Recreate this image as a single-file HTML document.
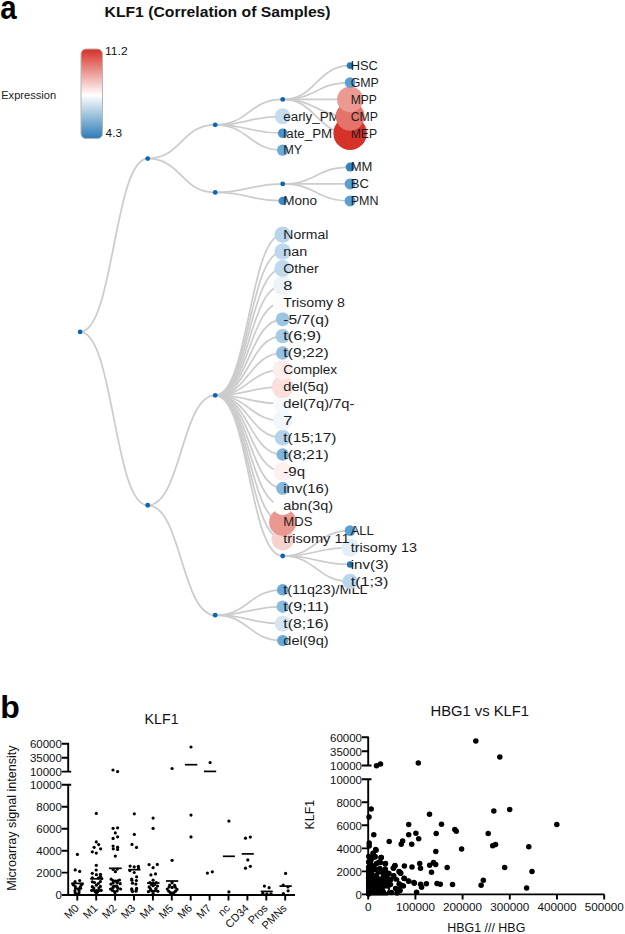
<!DOCTYPE html>
<html><head><meta charset="utf-8"><style>
html,body{margin:0;padding:0;background:#fff;}
body{width:625px;height:934px;overflow:hidden;position:relative;}
svg{position:absolute;left:0;top:0;}
text{font-family:"Liberation Sans",sans-serif;}
</style></head><body>
<svg width="625" height="934" viewBox="0 0 625 934">
<defs>
<linearGradient id="cb" x1="0" y1="0" x2="0" y2="1">
<stop offset="0" stop-color="#d73027"/>
<stop offset="0.515" stop-color="#ffffff"/>
<stop offset="1" stop-color="#2c7bb6"/>
</linearGradient>
</defs>
<text transform="translate(0.2,18.6) scale(0.88,1)" font-size="33.5" font-weight="bold" fill="#000">a</text>
<text x="104.6" y="16.9" font-size="15.3" font-weight="bold" fill="#111" textLength="226" lengthAdjust="spacingAndGlyphs">KLF1 (Correlation of Samples)</text>
<text x="1.2" y="98.8" font-size="11.2" fill="#222" textLength="55" lengthAdjust="spacingAndGlyphs">Expression</text>
<rect x="81" y="49" width="21.5" height="89.6" rx="5" fill="url(#cb)" stroke="#b5b5b5" stroke-width="1"/>
<text x="105" y="55.2" font-size="10.2" fill="#111" textLength="22.6" lengthAdjust="spacingAndGlyphs">11.2</text>
<text x="105.6" y="136.9" font-size="10.2" fill="#111" textLength="16.4" lengthAdjust="spacingAndGlyphs">4.3</text>
<g font-size="12" fill="#1c1c1c">
<g fill="none" stroke="#cccccc" stroke-width="1.75">
<path d="M80.1,331.93C113.90,331.93 113.90,158.60 147.7,158.60"/>
<path d="M80.1,331.93C113.90,331.93 113.90,505.26 147.7,505.26"/>
<path d="M147.7,158.60C181.45,158.60 181.45,124.78 215.2,124.78"/>
<path d="M147.7,158.60C181.45,158.60 181.45,192.43 215.2,192.43"/>
<path d="M147.7,505.26C181.45,505.26 181.45,395.35 215.2,395.35"/>
<path d="M147.7,505.26C181.45,505.26 181.45,615.18 215.2,615.18"/>
<path d="M215.2,124.78C248.95,124.78 248.95,99.42 282.7,99.42"/>
<path d="M215.2,124.78C248.95,124.78 248.95,116.33 282.7,116.33"/>
<path d="M215.2,124.78C248.95,124.78 248.95,133.24 282.7,133.24"/>
<path d="M215.2,124.78C248.95,124.78 248.95,150.15 282.7,150.15"/>
<path d="M215.2,192.43C248.95,192.43 248.95,183.97 282.7,183.97"/>
<path d="M215.2,192.43C248.95,192.43 248.95,200.88 282.7,200.88"/>
<path d="M282.7,99.42C316.40,99.42 316.40,65.60 350.1,65.60"/>
<path d="M282.7,99.42C316.40,99.42 316.40,82.51 350.1,82.51"/>
<path d="M282.7,99.42C316.40,99.42 316.40,99.42 350.1,99.42"/>
<path d="M282.7,99.42C316.40,99.42 316.40,116.33 350.1,116.33"/>
<path d="M282.7,99.42C316.40,99.42 316.40,133.24 350.1,133.24"/>
<path d="M282.7,183.97C316.40,183.97 316.40,167.06 350.1,167.06"/>
<path d="M282.7,183.97C316.40,183.97 316.40,183.97 350.1,183.97"/>
<path d="M282.7,183.97C316.40,183.97 316.40,200.88 350.1,200.88"/>
<path d="M215.2,395.35C248.95,395.35 248.95,234.70 282.7,234.70"/>
<path d="M215.2,395.35C248.95,395.35 248.95,251.61 282.7,251.61"/>
<path d="M215.2,395.35C248.95,395.35 248.95,268.52 282.7,268.52"/>
<path d="M215.2,395.35C248.95,395.35 248.95,285.43 282.7,285.43"/>
<path d="M215.2,395.35C248.95,395.35 248.95,302.34 282.7,302.34"/>
<path d="M215.2,395.35C248.95,395.35 248.95,319.25 282.7,319.25"/>
<path d="M215.2,395.35C248.95,395.35 248.95,336.16 282.7,336.16"/>
<path d="M215.2,395.35C248.95,395.35 248.95,353.07 282.7,353.07"/>
<path d="M215.2,395.35C248.95,395.35 248.95,369.98 282.7,369.98"/>
<path d="M215.2,395.35C248.95,395.35 248.95,386.89 282.7,386.89"/>
<path d="M215.2,395.35C248.95,395.35 248.95,403.80 282.7,403.80"/>
<path d="M215.2,395.35C248.95,395.35 248.95,420.71 282.7,420.71"/>
<path d="M215.2,395.35C248.95,395.35 248.95,437.62 282.7,437.62"/>
<path d="M215.2,395.35C248.95,395.35 248.95,454.53 282.7,454.53"/>
<path d="M215.2,395.35C248.95,395.35 248.95,471.44 282.7,471.44"/>
<path d="M215.2,395.35C248.95,395.35 248.95,488.35 282.7,488.35"/>
<path d="M215.2,395.35C248.95,395.35 248.95,505.26 282.7,505.26"/>
<path d="M215.2,395.35C248.95,395.35 248.95,522.17 282.7,522.17"/>
<path d="M215.2,395.35C248.95,395.35 248.95,539.08 282.7,539.08"/>
<path d="M215.2,395.35C248.95,395.35 248.95,555.99 282.7,555.99"/>
<path d="M282.7,555.99C316.40,555.99 316.40,530.62 350.1,530.62"/>
<path d="M282.7,555.99C316.40,555.99 316.40,547.53 350.1,547.53"/>
<path d="M282.7,555.99C316.40,555.99 316.40,564.45 350.1,564.45"/>
<path d="M282.7,555.99C316.40,555.99 316.40,581.36 350.1,581.36"/>
<path d="M215.2,615.18C248.95,615.18 248.95,589.81 282.7,589.81"/>
<path d="M215.2,615.18C248.95,615.18 248.95,606.72 282.7,606.72"/>
<path d="M215.2,615.18C248.95,615.18 248.95,623.63 282.7,623.63"/>
<path d="M215.2,615.18C248.95,615.18 248.95,640.54 282.7,640.54"/>
</g>
<circle cx="282.7" cy="640.54" r="5.6" fill="#6aa7d6"/>
<text x="283.3" y="644.84" textLength="45.4" lengthAdjust="spacingAndGlyphs">del(9q)</text>
<circle cx="282.7" cy="623.63" r="8.0" fill="#d4e6f3"/>
<text x="283.3" y="627.93" textLength="45.5" lengthAdjust="spacingAndGlyphs">t(8;16)</text>
<circle cx="282.7" cy="606.72" r="6.2" fill="#88bbe0"/>
<text x="283.3" y="611.02" textLength="45.5" lengthAdjust="spacingAndGlyphs">t(9;11)</text>
<circle cx="282.7" cy="589.81" r="5.8" fill="#6ba8d7"/>
<text x="283.3" y="594.11" textLength="84.1" lengthAdjust="spacingAndGlyphs">t(11q23)/MLL</text>
<circle cx="215.2" cy="615.18" r="2.4" fill="#0b66b0"/>
<circle cx="350.1" cy="581.36" r="7.7" fill="#b9d6ec"/>
<text x="350.7" y="585.65" textLength="37.8" lengthAdjust="spacingAndGlyphs">t(1;3)</text>
<circle cx="350.1" cy="564.45" r="3.2" fill="#2474b7"/>
<text x="350.7" y="568.75" textLength="38.0" lengthAdjust="spacingAndGlyphs">inv(3)</text>
<circle cx="350.1" cy="547.53" r="9.0" fill="#e3eef8"/>
<text x="350.7" y="551.83" textLength="66.4" lengthAdjust="spacingAndGlyphs">trisomy 13</text>
<circle cx="350.1" cy="530.62" r="5.4" fill="#5aa0d6"/>
<text x="350.7" y="534.92" textLength="23.1" lengthAdjust="spacingAndGlyphs">ALL</text>
<circle cx="282.7" cy="555.99" r="2.4" fill="#0b66b0"/>
<circle cx="282.7" cy="539.08" r="11.2" fill="#f6d2cf"/>
<text x="283.3" y="543.38" textLength="66.4" lengthAdjust="spacingAndGlyphs">trisomy 11</text>
<circle cx="282.7" cy="522.17" r="13.6" fill="#ea978f"/>
<text x="283.3" y="526.47" textLength="29.1" lengthAdjust="spacingAndGlyphs">MDS</text>
<circle cx="282.7" cy="505.26" r="10.0" fill="#ffffff"/>
<text x="283.3" y="509.56" textLength="49.8" lengthAdjust="spacingAndGlyphs">abn(3q)</text>
<circle cx="282.7" cy="488.35" r="6.5" fill="#84b8de"/>
<text x="283.3" y="492.65" textLength="45.6" lengthAdjust="spacingAndGlyphs">inv(16)</text>
<circle cx="282.7" cy="471.44" r="9.4" fill="#fdf0ef"/>
<text x="283.3" y="475.74" textLength="21.8" lengthAdjust="spacingAndGlyphs">-9q</text>
<circle cx="282.7" cy="454.53" r="6.2" fill="#7fb4dc"/>
<text x="283.3" y="458.83" textLength="45.5" lengthAdjust="spacingAndGlyphs">t(8;21)</text>
<circle cx="282.7" cy="437.62" r="7.9" fill="#b5d3ea"/>
<text x="283.3" y="441.92" textLength="53.1" lengthAdjust="spacingAndGlyphs">t(15;17)</text>
<circle cx="282.7" cy="420.71" r="9.6" fill="#f0f6fb"/>
<text x="283.3" y="425.01" textLength="9.1" lengthAdjust="spacingAndGlyphs">7</text>
<circle cx="282.7" cy="403.80" r="9.5" fill="#f4f9fd"/>
<text x="283.3" y="408.10" textLength="71.1" lengthAdjust="spacingAndGlyphs">del(7q)/7q-</text>
<circle cx="282.7" cy="386.89" r="11.0" fill="#fadfdd"/>
<text x="283.3" y="391.19" textLength="45.4" lengthAdjust="spacingAndGlyphs">del(5q)</text>
<circle cx="282.7" cy="369.98" r="10.2" fill="#fdeeed"/>
<text x="283.3" y="374.28" textLength="53.9" lengthAdjust="spacingAndGlyphs">Complex</text>
<circle cx="282.7" cy="353.07" r="6.7" fill="#93bfe1"/>
<text x="283.3" y="357.37" textLength="45.5" lengthAdjust="spacingAndGlyphs">t(9;22)</text>
<circle cx="282.7" cy="336.16" r="7.2" fill="#a6cbe6"/>
<text x="283.3" y="340.46" textLength="37.8" lengthAdjust="spacingAndGlyphs">t(6;9)</text>
<circle cx="282.7" cy="319.25" r="6.9" fill="#9cc4e3"/>
<text x="283.3" y="323.55" textLength="45.8" lengthAdjust="spacingAndGlyphs">-5/7(q)</text>
<circle cx="282.7" cy="302.34" r="10.0" fill="#fefbfb"/>
<text x="283.3" y="306.64" textLength="61.5" lengthAdjust="spacingAndGlyphs">Trisomy 8</text>
<circle cx="282.7" cy="285.43" r="9.6" fill="#ecf4fa"/>
<text x="283.3" y="289.73" textLength="9.1" lengthAdjust="spacingAndGlyphs">8</text>
<circle cx="282.7" cy="268.52" r="8.4" fill="#c0d9ed"/>
<text x="283.3" y="272.82" textLength="35.5" lengthAdjust="spacingAndGlyphs">Other</text>
<circle cx="282.7" cy="251.61" r="8.2" fill="#bdd7ec"/>
<text x="283.3" y="255.91" textLength="23.9" lengthAdjust="spacingAndGlyphs">nan</text>
<circle cx="282.7" cy="234.70" r="8.2" fill="#b9d5eb"/>
<text x="283.3" y="239.00" textLength="45.1" lengthAdjust="spacingAndGlyphs">Normal</text>
<circle cx="215.2" cy="395.35" r="2.4" fill="#0b66b0"/>
<circle cx="147.7" cy="505.26" r="2.4" fill="#0b66b0"/>
<circle cx="282.7" cy="200.88" r="4.2" fill="#3c88c6"/>
<text x="283.3" y="205.18" textLength="33.8" lengthAdjust="spacingAndGlyphs">Mono</text>
<circle cx="350.1" cy="200.88" r="5.5" fill="#5aa0d6"/>
<text x="350.7" y="205.18" textLength="27.8" lengthAdjust="spacingAndGlyphs">PMN</text>
<circle cx="350.1" cy="183.97" r="5.5" fill="#5aa0d6"/>
<text x="350.7" y="188.27" textLength="18.1" lengthAdjust="spacingAndGlyphs">BC</text>
<circle cx="350.1" cy="167.06" r="4.5" fill="#3283c3"/>
<text x="350.7" y="171.36" textLength="21.7" lengthAdjust="spacingAndGlyphs">MM</text>
<circle cx="282.7" cy="183.97" r="2.4" fill="#0b66b0"/>
<circle cx="215.2" cy="192.43" r="2.4" fill="#0b66b0"/>
<circle cx="282.7" cy="150.15" r="5.7" fill="#6caad8"/>
<text x="283.3" y="154.45" textLength="19.0" lengthAdjust="spacingAndGlyphs">MY</text>
<circle cx="282.7" cy="133.24" r="4.8" fill="#4a92cc"/>
<text x="283.3" y="137.54" textLength="48.9" lengthAdjust="spacingAndGlyphs">late_PM</text>
<circle cx="282.7" cy="116.33" r="8.0" fill="#c3dcef"/>
<text x="283.3" y="120.63" textLength="56.4" lengthAdjust="spacingAndGlyphs">early_PM</text>
<circle cx="350.1" cy="133.24" r="16.7" fill="#d5322a"/>
<text x="350.7" y="137.54" textLength="26.4" lengthAdjust="spacingAndGlyphs">MEP</text>
<circle cx="350.1" cy="116.33" r="14.4" fill="#e4736a"/>
<text x="350.7" y="120.63" textLength="27.2" lengthAdjust="spacingAndGlyphs">CMP</text>
<circle cx="350.1" cy="99.42" r="13.0" fill="#ea9a91"/>
<text x="350.7" y="103.72" textLength="26.1" lengthAdjust="spacingAndGlyphs">MPP</text>
<circle cx="350.1" cy="82.51" r="5.3" fill="#5b9fd4"/>
<text x="350.7" y="86.81" textLength="28.2" lengthAdjust="spacingAndGlyphs">GMP</text>
<circle cx="350.1" cy="65.60" r="3.4" fill="#2a7abb"/>
<text x="350.7" y="69.90" textLength="27.1" lengthAdjust="spacingAndGlyphs">HSC</text>
<circle cx="282.7" cy="99.42" r="2.4" fill="#0b66b0"/>
<circle cx="215.2" cy="124.78" r="2.4" fill="#0b66b0"/>
<circle cx="147.7" cy="158.60" r="2.4" fill="#0b66b0"/>
<circle cx="80.1" cy="331.93" r="2.4" fill="#0b66b0"/>
</g>
<text x="0.3" y="718.2" font-size="32" font-weight="bold" fill="#000">b</text>
<text x="144.6" y="723.6" font-size="14.8" fill="#111" textLength="34" lengthAdjust="spacingAndGlyphs">KLF1</text>
<text x="430.5" y="715.8" font-size="14.6" fill="#111" textLength="98.6" lengthAdjust="spacingAndGlyphs">HBG1 vs KLF1</text>
<text transform="translate(15.7,890.8) rotate(-90)" font-size="12.4" fill="#111" textLength="145.4" lengthAdjust="spacingAndGlyphs">Microarray signal intensity</text>
<text transform="translate(314.3,829.4) rotate(-90)" font-size="12.8" fill="#111" textLength="29.6" lengthAdjust="spacingAndGlyphs">KLF1</text>
<text x="447.3" y="932" font-size="12" fill="#111" textLength="78" lengthAdjust="spacingAndGlyphs">HBG1 /// HBG</text>
<g stroke="#000" stroke-width="1.9" fill="none">
<path d="M68.2,742.8V771.6M61.8,743.7H68.2M61.8,757.7H68.2M61.8,771.6H71.2"/>
<path d="M71.2,784.8H68.2V895M61.8,784.8H68.2M61.8,806.8H68.2M61.8,828.7H68.2M61.8,850.7H68.2M61.8,872.6H68.2"/>
<path d="M61.8,895H295"/>
<path d="M77.30,895V900.6M96.20,895V900.6M115.10,895V900.6M134.00,895V900.6M152.90,895V900.6M171.80,895V900.6M190.70,895V900.6M209.60,895V900.6M228.50,895V900.6M247.40,895V900.6M266.30,895V900.6M285.20,895V900.6"/>
</g>
<g font-size="11.5" text-anchor="end" fill="#111">
<text x="61.9" y="748.0">60000</text>
<text x="61.9" y="762.0">35000</text>
<text x="61.9" y="775.9">10000</text>
<text x="61.9" y="789.1">10000</text>
<text x="61.9" y="811.1">8000</text>
<text x="61.9" y="833.0">6000</text>
<text x="61.9" y="855.0">4000</text>
<text x="61.9" y="876.9">2000</text>
<text x="61.9" y="898.9">0</text>
</g>
<g font-size="11" text-anchor="end" fill="#111">
<text transform="translate(79.5,908.8) rotate(-45)">M0</text>
<text transform="translate(98.4,908.8) rotate(-45)">M1</text>
<text transform="translate(117.3,908.8) rotate(-45)">M2</text>
<text transform="translate(136.2,908.8) rotate(-45)">M3</text>
<text transform="translate(155.1,908.8) rotate(-45)">M4</text>
<text transform="translate(174.0,908.8) rotate(-45)">M5</text>
<text transform="translate(192.9,908.8) rotate(-45)">M6</text>
<text transform="translate(211.8,908.8) rotate(-45)">M7</text>
<text transform="translate(230.7,908.8) rotate(-45)">nc</text>
<text transform="translate(249.6,908.8) rotate(-45)">CD34</text>
<text transform="translate(268.5,908.8) rotate(-45)">Pros</text>
<text transform="translate(287.4,908.8) rotate(-45)">PMNs</text>
</g>
<g stroke="#000" stroke-width="1.7">
<path d="M71.2,883.4H83.7"/>
<path d="M90.2,878.8H102.8"/>
<path d="M109.0,868.3H121.7"/>
<path d="M128.2,869.7H140.5"/>
<path d="M147.0,883.0H159.6"/>
<path d="M166.0,881.0H178.2"/>
<path d="M184.9,764.7H197.3"/>
<path d="M203.9,771.4H216.2"/>
<path d="M222.9,856.3H234.9"/>
<path d="M241.7,853.9H253.8"/>
<path d="M260.7,891.4H272.8"/>
<path d="M279.5,886.1H291.8"/>
</g>
<g fill="#000">
<circle cx="77.4" cy="854.4" r="1.6"/>
<circle cx="75.2" cy="869.9" r="1.6"/>
<circle cx="79.7" cy="871.4" r="1.6"/>
<circle cx="79.7" cy="880.6" r="1.6"/>
<circle cx="75.05" cy="881.7" r="1.6"/>
<circle cx="73.6" cy="885.0" r="1.6"/>
<circle cx="75.3" cy="886.5" r="1.6"/>
<circle cx="81.2" cy="885.0" r="1.6"/>
<circle cx="80.3" cy="886.8" r="1.6"/>
<circle cx="75.5" cy="888.4" r="1.6"/>
<circle cx="78.2" cy="888.8" r="1.6"/>
<circle cx="80.6" cy="888.2" r="1.6"/>
<circle cx="74.9" cy="890.8" r="1.6"/>
<circle cx="75.2" cy="892.8" r="1.6"/>
<circle cx="79.1" cy="890.5" r="1.6"/>
<circle cx="79.0" cy="892.8" r="1.6"/>
<circle cx="77.1" cy="894.3" r="1.6"/>
<circle cx="72.9" cy="884.0" r="1.6"/>
<circle cx="82.0" cy="884.2" r="1.6"/>
<circle cx="96.3" cy="813.4" r="1.6"/>
<circle cx="96.3" cy="841.9" r="1.6"/>
<circle cx="98.7" cy="844.6" r="1.6"/>
<circle cx="94.1" cy="847.3" r="1.6"/>
<circle cx="100.6" cy="848.8" r="1.6"/>
<circle cx="92.3" cy="851.8" r="1.6"/>
<circle cx="96.3" cy="853.1" r="1.6"/>
<circle cx="96.3" cy="865.3" r="1.6"/>
<circle cx="96.2" cy="870.0" r="1.6"/>
<circle cx="92.3" cy="873.3" r="1.6"/>
<circle cx="96.4" cy="874.7" r="1.6"/>
<circle cx="100.5" cy="874.3" r="1.6"/>
<circle cx="100.5" cy="876.3" r="1.6"/>
<circle cx="92.3" cy="877.8" r="1.6"/>
<circle cx="98.4" cy="878.0" r="1.6"/>
<circle cx="101.8" cy="878.6" r="1.6"/>
<circle cx="92.3" cy="881.8" r="1.6"/>
<circle cx="94.5" cy="882.5" r="1.6"/>
<circle cx="100.4" cy="881.6" r="1.6"/>
<circle cx="98.4" cy="883.5" r="1.6"/>
<circle cx="96.4" cy="885.2" r="1.6"/>
<circle cx="92.3" cy="886.7" r="1.6"/>
<circle cx="93.8" cy="888.1" r="1.6"/>
<circle cx="100.4" cy="886.4" r="1.6"/>
<circle cx="98.9" cy="888.1" r="1.6"/>
<circle cx="91.7" cy="890.4" r="1.6"/>
<circle cx="94.3" cy="890.4" r="1.6"/>
<circle cx="96.6" cy="890.7" r="1.6"/>
<circle cx="98.9" cy="890.4" r="1.6"/>
<circle cx="101.2" cy="890.4" r="1.6"/>
<circle cx="96.4" cy="892.5" r="1.6"/>
<circle cx="96.4" cy="894.3" r="1.6"/>
<circle cx="95.2" cy="891.8" r="1.6"/>
<circle cx="97.6" cy="891.8" r="1.6"/>
<circle cx="113.0" cy="770.0" r="1.6"/>
<circle cx="117.6" cy="771.6" r="1.6"/>
<circle cx="113.1" cy="828.3" r="1.6"/>
<circle cx="117.6" cy="827.8" r="1.6"/>
<circle cx="115.3" cy="832.9" r="1.6"/>
<circle cx="113.1" cy="838.4" r="1.6"/>
<circle cx="117.6" cy="836.8" r="1.6"/>
<circle cx="113.1" cy="846.1" r="1.6"/>
<circle cx="117.6" cy="847.2" r="1.6"/>
<circle cx="113.3" cy="848.8" r="1.6"/>
<circle cx="117.6" cy="849.4" r="1.6"/>
<circle cx="115.3" cy="856.1" r="1.6"/>
<circle cx="113.1" cy="869.5" r="1.6"/>
<circle cx="117.2" cy="869.1" r="1.6"/>
<circle cx="115.4" cy="871.7" r="1.6"/>
<circle cx="111.2" cy="879.2" r="1.6"/>
<circle cx="113.1" cy="880.7" r="1.6"/>
<circle cx="115.4" cy="881.1" r="1.6"/>
<circle cx="117.6" cy="880.9" r="1.6"/>
<circle cx="119.5" cy="880.0" r="1.6"/>
<circle cx="110.9" cy="884.1" r="1.6"/>
<circle cx="113.1" cy="883.0" r="1.6"/>
<circle cx="117.2" cy="883.0" r="1.6"/>
<circle cx="120.2" cy="883.7" r="1.6"/>
<circle cx="113.5" cy="886.3" r="1.6"/>
<circle cx="115.4" cy="886.2" r="1.6"/>
<circle cx="116.9" cy="886.3" r="1.6"/>
<circle cx="110.5" cy="889.0" r="1.6"/>
<circle cx="112.7" cy="888.2" r="1.6"/>
<circle cx="118.0" cy="888.2" r="1.6"/>
<circle cx="120.6" cy="889.0" r="1.6"/>
<circle cx="112.4" cy="890.5" r="1.6"/>
<circle cx="114.6" cy="891.6" r="1.6"/>
<circle cx="117.2" cy="890.8" r="1.6"/>
<circle cx="115.0" cy="892.7" r="1.6"/>
<circle cx="134.3" cy="813.8" r="1.6"/>
<circle cx="134.3" cy="834.4" r="1.6"/>
<circle cx="132.0" cy="844.4" r="1.6"/>
<circle cx="136.5" cy="847.4" r="1.6"/>
<circle cx="130.1" cy="866.1" r="1.6"/>
<circle cx="134.2" cy="866.9" r="1.6"/>
<circle cx="138.3" cy="866.3" r="1.6"/>
<circle cx="138.5" cy="868.0" r="1.6"/>
<circle cx="129.9" cy="870.6" r="1.6"/>
<circle cx="134.2" cy="872.5" r="1.6"/>
<circle cx="136.6" cy="876.8" r="1.6"/>
<circle cx="131.7" cy="879.0" r="1.6"/>
<circle cx="131.9" cy="880.2" r="1.6"/>
<circle cx="136.4" cy="880.5" r="1.6"/>
<circle cx="132.5" cy="883.2" r="1.6"/>
<circle cx="135.9" cy="884.1" r="1.6"/>
<circle cx="131.7" cy="888.8" r="1.6"/>
<circle cx="136.6" cy="888.4" r="1.6"/>
<circle cx="132.5" cy="891.6" r="1.6"/>
<circle cx="136.0" cy="891.2" r="1.6"/>
<circle cx="132.0" cy="890.2" r="1.6"/>
<circle cx="136.3" cy="889.8" r="1.6"/>
<circle cx="153.1" cy="818.1" r="1.6"/>
<circle cx="153.1" cy="828.4" r="1.6"/>
<circle cx="149.1" cy="864.6" r="1.6"/>
<circle cx="157.3" cy="864.4" r="1.6"/>
<circle cx="153.1" cy="867.7" r="1.6"/>
<circle cx="150.9" cy="874.9" r="1.6"/>
<circle cx="155.5" cy="873.9" r="1.6"/>
<circle cx="153.1" cy="880.2" r="1.6"/>
<circle cx="149.9" cy="882.6" r="1.6"/>
<circle cx="156.3" cy="882.6" r="1.6"/>
<circle cx="153.1" cy="883.6" r="1.6"/>
<circle cx="151.5" cy="884.5" r="1.6"/>
<circle cx="154.7" cy="884.5" r="1.6"/>
<circle cx="149.1" cy="886.9" r="1.6"/>
<circle cx="157.5" cy="886.1" r="1.6"/>
<circle cx="153.1" cy="885.7" r="1.6"/>
<circle cx="150.3" cy="888.5" r="1.6"/>
<circle cx="155.9" cy="888.5" r="1.6"/>
<circle cx="148.4" cy="891.7" r="1.6"/>
<circle cx="157.9" cy="891.3" r="1.6"/>
<circle cx="151.9" cy="891.0" r="1.6"/>
<circle cx="154.3" cy="891.0" r="1.6"/>
<circle cx="153.1" cy="893.7" r="1.6"/>
<circle cx="150.5" cy="890.0" r="1.6"/>
<circle cx="156.0" cy="890.0" r="1.6"/>
<circle cx="172.1" cy="768.5" r="1.6"/>
<circle cx="172.1" cy="860.3" r="1.6"/>
<circle cx="172.1" cy="882.7" r="1.6"/>
<circle cx="169.7" cy="885.1" r="1.6"/>
<circle cx="174.6" cy="885.4" r="1.6"/>
<circle cx="172.1" cy="887.4" r="1.6"/>
<circle cx="169.1" cy="887.0" r="1.6"/>
<circle cx="175.2" cy="887.2" r="1.6"/>
<circle cx="167.3" cy="889.1" r="1.6"/>
<circle cx="177.0" cy="889.4" r="1.6"/>
<circle cx="168.8" cy="891.2" r="1.6"/>
<circle cx="175.5" cy="891.2" r="1.6"/>
<circle cx="170.3" cy="892.6" r="1.6"/>
<circle cx="172.1" cy="893.2" r="1.6"/>
<circle cx="174.0" cy="892.6" r="1.6"/>
<circle cx="172.1" cy="894.2" r="1.6"/>
<circle cx="191.0" cy="747.0" r="1.6"/>
<circle cx="191.0" cy="815.1" r="1.6"/>
<circle cx="191.0" cy="836.9" r="1.6"/>
<circle cx="210.1" cy="762.6" r="1.6"/>
<circle cx="207.4" cy="873.1" r="1.6"/>
<circle cx="212.3" cy="871.8" r="1.6"/>
<circle cx="228.9" cy="821.1" r="1.6"/>
<circle cx="228.9" cy="891.9" r="1.6"/>
<circle cx="245.5" cy="838.2" r="1.6"/>
<circle cx="250.3" cy="837.1" r="1.6"/>
<circle cx="247.8" cy="859.9" r="1.6"/>
<circle cx="245.5" cy="868.2" r="1.6"/>
<circle cx="250.3" cy="866.3" r="1.6"/>
<circle cx="264.4" cy="886.1" r="1.6"/>
<circle cx="269.1" cy="887.7" r="1.6"/>
<circle cx="262.8" cy="893.4" r="1.6"/>
<circle cx="266.8" cy="893.8" r="1.6"/>
<circle cx="271.0" cy="893.8" r="1.6"/>
<circle cx="285.6" cy="873.4" r="1.6"/>
<circle cx="283.2" cy="885.1" r="1.6"/>
<circle cx="287.9" cy="887.0" r="1.6"/>
<circle cx="288.1" cy="890.8" r="1.6"/>
<circle cx="283.4" cy="893.5" r="1.6"/>
</g>
<g stroke="#000" stroke-width="1.9" fill="none">
<path d="M368.2,736.4V765.5M361.9,737.3H368.2M361.9,751.3H368.2M361.9,765.5H371.5"/>
<path d="M371.5,779.3H368.2V894.4M361.9,779.3H368.2M361.9,802.3H368.2M361.9,825.3H368.2M361.9,848.4H368.2M361.9,871.4H368.2"/>
<path d="M361.9,894.4H604.4"/>
<path d="M368.20,894.4V899.4M415.40,894.4V899.4M462.60,894.4V899.4M509.80,894.4V899.4M557.00,894.4V899.4M604.20,894.4V899.4"/>
</g>
<g font-size="11.5" text-anchor="end" fill="#111">
<text x="362" y="741.6">60000</text>
<text x="362" y="755.6">35000</text>
<text x="362" y="769.8">10000</text>
<text x="362" y="783.6">10000</text>
<text x="362" y="806.6">8000</text>
<text x="362" y="829.6">6000</text>
<text x="362" y="852.7">4000</text>
<text x="362" y="875.7">2000</text>
<text x="362" y="898.7">0</text>
</g>
<g font-size="11.7" text-anchor="middle" fill="#111">
<text x="368.2" y="911.4">0</text>
<text x="415.4" y="911.4">100000</text>
<text x="462.6" y="911.4">200000</text>
<text x="509.8" y="911.4">300000</text>
<text x="557.0" y="911.4">400000</text>
<text x="604.2" y="911.4">500000</text>
</g>
<g fill="#000">
<circle cx="376.5" cy="765.7" r="2.75"/>
<circle cx="380.5" cy="764.1" r="2.75"/>
<circle cx="418.3" cy="763.0" r="2.75"/>
<circle cx="475.8" cy="740.9" r="2.75"/>
<circle cx="499.8" cy="757.0" r="2.75"/>
<circle cx="371.2" cy="809.1" r="2.75"/>
<circle cx="369.0" cy="817.0" r="2.75"/>
<circle cx="373.8" cy="834.8" r="2.75"/>
<circle cx="369.2" cy="843.0" r="2.75"/>
<circle cx="369.2" cy="845.9" r="2.75"/>
<circle cx="389.2" cy="841.6" r="2.75"/>
<circle cx="408.7" cy="824.4" r="2.75"/>
<circle cx="408.7" cy="834.7" r="2.75"/>
<circle cx="415.9" cy="833.2" r="2.75"/>
<circle cx="418.7" cy="838.7" r="2.75"/>
<circle cx="402.6" cy="841.0" r="2.75"/>
<circle cx="401.2" cy="844.2" r="2.75"/>
<circle cx="411.7" cy="844.2" r="2.75"/>
<circle cx="429.5" cy="814.2" r="2.75"/>
<circle cx="441.5" cy="824.2" r="2.75"/>
<circle cx="436.2" cy="833.4" r="2.75"/>
<circle cx="454.8" cy="829.5" r="2.75"/>
<circle cx="456.3" cy="831.2" r="2.75"/>
<circle cx="461.6" cy="848.9" r="2.75"/>
<circle cx="435.8" cy="851.6" r="2.75"/>
<circle cx="493.8" cy="810.9" r="2.75"/>
<circle cx="509.7" cy="809.6" r="2.75"/>
<circle cx="556.8" cy="824.6" r="2.75"/>
<circle cx="488.2" cy="833.6" r="2.75"/>
<circle cx="492.7" cy="845.7" r="2.75"/>
<circle cx="495.5" cy="844.5" r="2.75"/>
<circle cx="528.8" cy="846.8" r="2.75"/>
<circle cx="504.7" cy="867.6" r="2.75"/>
<circle cx="532.0" cy="871.4" r="2.75"/>
<circle cx="483.3" cy="880.3" r="2.75"/>
<circle cx="481.1" cy="885.2" r="2.75"/>
<circle cx="526.6" cy="887.9" r="2.75"/>
<circle cx="375.7" cy="849.6" r="2.75"/>
<circle cx="381.3" cy="857.4" r="2.75"/>
<circle cx="385.2" cy="863.7" r="2.75"/>
<circle cx="394.8" cy="866.0" r="2.75"/>
<circle cx="393.4" cy="868.3" r="2.75"/>
<circle cx="404.4" cy="866.0" r="2.75"/>
<circle cx="412.0" cy="867.0" r="2.75"/>
<circle cx="419.7" cy="863.4" r="2.75"/>
<circle cx="420.5" cy="868.3" r="2.75"/>
<circle cx="429.7" cy="865.3" r="2.75"/>
<circle cx="433.5" cy="862.6" r="2.75"/>
<circle cx="435.7" cy="864.6" r="2.75"/>
<circle cx="431.5" cy="872.3" r="2.75"/>
<circle cx="447.2" cy="867.6" r="2.75"/>
<circle cx="399.6" cy="872.0" r="2.75"/>
<circle cx="400.6" cy="873.2" r="2.75"/>
<circle cx="393.8" cy="875.7" r="2.75"/>
<circle cx="404.4" cy="878.4" r="2.75"/>
<circle cx="408.8" cy="881.3" r="2.75"/>
<circle cx="414.3" cy="883.2" r="2.75"/>
<circle cx="420.6" cy="884.2" r="2.75"/>
<circle cx="421.6" cy="887.2" r="2.75"/>
<circle cx="426.4" cy="883.8" r="2.75"/>
<circle cx="437.0" cy="883.5" r="2.75"/>
<circle cx="440.3" cy="884.2" r="2.75"/>
<circle cx="452.5" cy="884.6" r="2.75"/>
<circle cx="416.6" cy="892.3" r="2.75"/>
<circle cx="401.5" cy="885.2" r="2.75"/>
<circle cx="398.6" cy="889.0" r="2.75"/>
<circle cx="373.2" cy="853.2" r="2.75"/>
<circle cx="375.1" cy="856.6" r="2.75"/>
<circle cx="369.3" cy="862.4" r="2.75"/>
<circle cx="385.2" cy="869.0" r="2.75"/>
<circle cx="379.0" cy="862.0" r="2.75"/>
<circle cx="372.0" cy="858.0" r="2.75"/>
<path d="M366,895.6L366,868L370,866L376,866.5L382,868.5L387,872L390,877L391,884L390,889L388,895.6Z"/>
<circle cx="376.0" cy="850.2" r="2.75"/>
<circle cx="373.2" cy="853.5" r="2.75"/>
<circle cx="374.9" cy="856.9" r="2.75"/>
<circle cx="381.0" cy="857.4" r="2.75"/>
<circle cx="368.7" cy="861.9" r="2.75"/>
<circle cx="368.7" cy="856.5" r="2.75"/>
<circle cx="368.7" cy="867.0" r="2.75"/>
<circle cx="371.0" cy="860.0" r="2.75"/>
<circle cx="371.2" cy="864.5" r="2.75"/>
<circle cx="376.6" cy="863.6" r="2.75"/>
<circle cx="373.8" cy="867.0" r="2.75"/>
<circle cx="379.9" cy="868.6" r="2.75"/>
<circle cx="385.5" cy="870.3" r="2.75"/>
<circle cx="385.5" cy="863.6" r="2.75"/>
<circle cx="380.5" cy="862.5" r="2.75"/>
<circle cx="395.0" cy="865.6" r="2.75"/>
<circle cx="393.4" cy="868.1" r="2.75"/>
<circle cx="399.0" cy="871.4" r="2.75"/>
<circle cx="400.6" cy="873.1" r="2.75"/>
<circle cx="393.4" cy="875.9" r="2.75"/>
<circle cx="389.0" cy="873.5" r="2.75"/>
<circle cx="404.0" cy="878.2" r="2.75"/>
<circle cx="408.5" cy="881.0" r="2.75"/>
<circle cx="414.0" cy="882.6" r="2.75"/>
<circle cx="399.0" cy="883.8" r="2.75"/>
<circle cx="403.4" cy="886.0" r="2.75"/>
<circle cx="400.1" cy="890.5" r="2.75"/>
<circle cx="395.6" cy="888.6" r="2.75"/>
<circle cx="391.5" cy="892.6" r="2.75"/>
<circle cx="397.0" cy="893.0" r="2.75"/>
<circle cx="386.6" cy="890.5" r="2.75"/>
<circle cx="390.5" cy="884.5" r="2.75"/>
<circle cx="391.0" cy="879.5" r="2.75"/>
<circle cx="396.6" cy="879.8" r="2.75"/>
<circle cx="368.6" cy="872.0" r="2.75"/>
<circle cx="368.6" cy="878.0" r="2.75"/>
<circle cx="368.6" cy="884.0" r="2.75"/>
<circle cx="368.6" cy="890.0" r="2.75"/>
<circle cx="368.6" cy="894.0" r="2.75"/>
</g>
<g fill="#fff"><path d="M394.3,881.6L397,881.8L395.6,884.8Z"/><path d="M384.6,888.6L388.4,888.8L386.6,892.3Z"/><path d="M378.8,874.6L381.2,874.8L380,877.3Z"/><circle cx="374.9" cy="872.6" r="0.7"/></g>
</svg>
</body></html>
